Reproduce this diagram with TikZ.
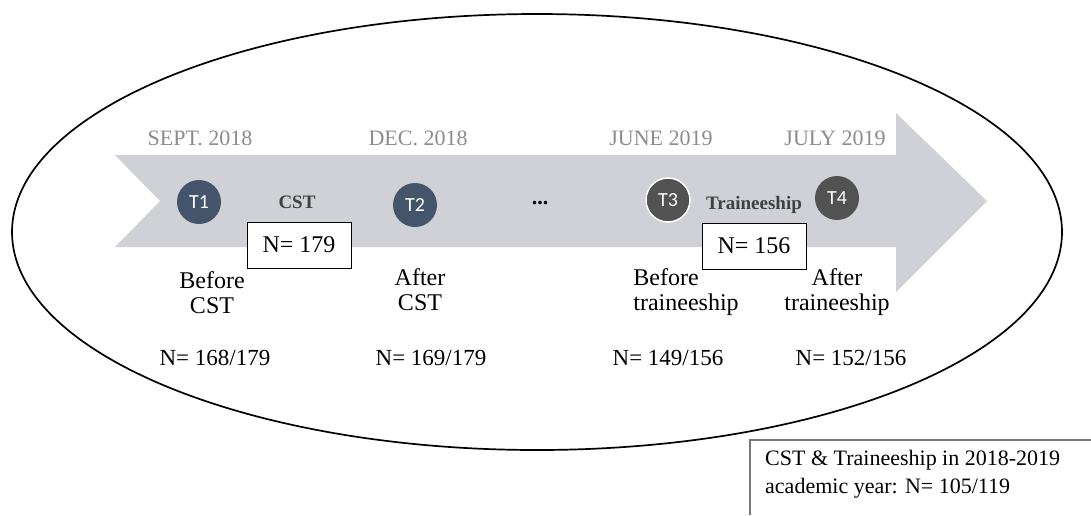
\documentclass[tikz,border=0pt]{standalone}
\usepackage{fontspec}
\setmainfont{Liberation Serif}
\newfontfamily\circfont{Carlito}

\definecolor{arrowgray}{RGB}{208,209,214}
\definecolor{slateblue}{RGB}{68,84,106}
\definecolor{darkcirc}{RGB}{82,82,82}
\definecolor{dategray}{RGB}{140,140,140}
\definecolor{boxgray}{RGB}{120,120,120}
\definecolor{phasegray}{RGB}{64,64,64}

\begin{document}
\begin{tikzpicture}[x=1pt, y=-1pt,
	tnode/.style={circle, minimum size=44pt, inner sep=0pt, text=white, font=\circfont\fontsize{20}{20}\selectfont},
	datetext/.style={text=dategray, font=\fontsize{22}{22}\selectfont},
	phasetext/.style={text=phasegray, font=\fontsize{19}{19}\selectfont\bfseries},
	steptext/.style={align=center, font=\fontsize{24}{25}\selectfont},
	counttext/.style={font=\fontsize{23}{23}\selectfont},
	nbox/.style={draw, fill=white, line width=0.8pt, minimum width=104pt, minimum height=46pt, inner sep=0pt, font=\fontsize{24}{24}\selectfont}]
	\useasboundingbox (0,0) rectangle (1091,515);

	\coordinate (TL) at (115,155);
	\coordinate (BL) at (115,247);
	\coordinate (NOTCH) at (160,201);
	\coordinate (TIP) at (987,201);
	\coordinate (BOXTR) at (1091,440);
	\coordinate (BOXTL) at (750,440);
	\coordinate (BOXBL) at (750,515);

	\fill[arrowgray] (TL) -- (896,155) -- (896,113) -- (TIP) -- (896,292) -- (896,247) -- (BL) -- (NOTCH) -- cycle;
	\draw[line width=1.7pt] (537,232) ellipse [x radius=525pt, y radius=218pt];

	\node[datetext] (sept) at (200,138) {SEPT. 2018};
	\node[datetext] (dec) at (418,138) {DEC. 2018};
	\node[datetext] (june) at (661,138) {JUNE 2019};
	\node[datetext] (july) at (835,138) {JULY 2019};

	\node[tnode, fill=slateblue] (T1) at (199,202) {T1};
	\node[tnode, fill=slateblue] (T2) at (415,205) {T2};
	\node[tnode, fill=darkcirc, draw=white, line width=1.5pt] (T3) at (668,200) {T3};
	\node[tnode, fill=darkcirc] (T4) at (837,198) {T4};

	\node[phasetext] (cst) at (297,202) {CST};
	\node[phasetext] (trainee) at (754,205) {Traineeship};
	\node[font=\fontsize{22}{22}\selectfont\bfseries] (dots) at (540,203) {...};

	\node[nbox] (n1) at (299,245) {N= 179};
	\node[nbox] (n2) at (754,246) {N= 156};

	\node[steptext] (beforecst) at (212,293) {Before\\CST};
	\node[steptext] (aftercst) at (420,290) {After\\CST};
	\node[steptext, align=left] (beforetr) at (686,292) {Before\\traineeship};
	\node[steptext] (aftertr) at (837,292) {After\\traineeship};

	\node[counttext] (c1) at (215,358) {N= 168/179};
	\node[counttext] (c2) at (431,358) {N= 169/179};
	\node[counttext] (c3) at (668,358) {N= 149/156};
	\node[counttext] (c4) at (851,358) {N= 152/156};

	\draw[boxgray, line width=1.5pt] (BOXTR) -- (BOXTL) -- (BOXBL);
	\node[align=left, anchor=north west, inner sep=0pt, font=\fontsize{22}{28}\selectfont] (summary) at (765,450) {CST \& Traineeship in 2018-2019\\academic year: N= 105/119};
\end{tikzpicture}
\end{document}
